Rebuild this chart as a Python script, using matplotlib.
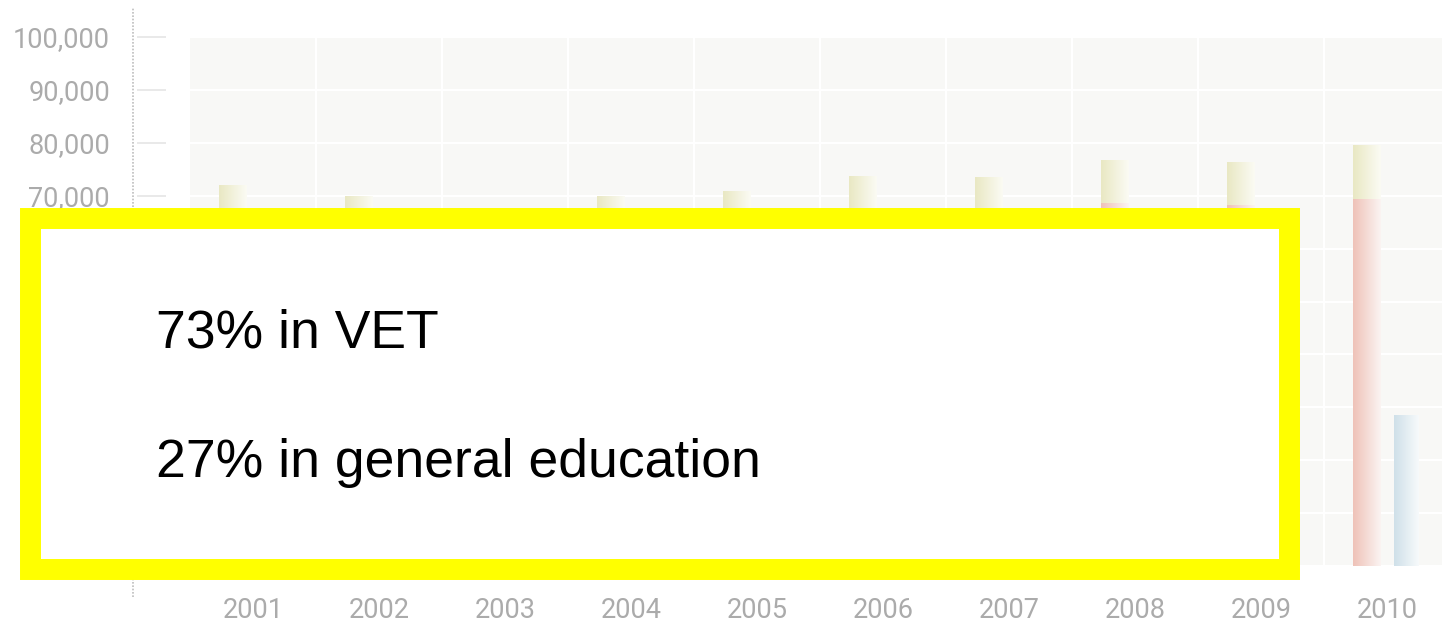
import numpy as np
import matplotlib
matplotlib.use('Agg')
import matplotlib.pyplot as plt
from matplotlib.colors import LinearSegmentedColormap
from matplotlib.patches import Rectangle
from matplotlib.ticker import FixedLocator, FuncFormatter

years = ['2001', '2002', '2003', '2004', '2005', '2006', '2007', '2008', '2009', '2010']
# total students (yellow top), VET students (red), general education (blue)
total_students = [72000, 69700, 67000, 69900, 70900, 73700, 73500, 76600, 76200, 79600]
vet_students = [64500, 62500, 60500, 62000, 63000, 65500, 65000, 68600, 68200, 69400]
general_students = [26000, 25500, 25000, 25500, 26000, 27000, 27500, 28000, 27800, 28500]
y_ticks = list(range(0, 100001, 10000))

W, H = 1442, 623
fig = plt.figure(figsize=(W / 100, H / 100), dpi=100)
ax = fig.add_axes([166 / W, 57 / H, 1 - 166 / W, 529 / H])

x = np.arange(len(years))
other = [t - v for t, v in zip(total_students, vet_students)]


def shade(bars, c_left, c_right):
    # horizontal gradient fill for each bar
    cmap = LinearSegmentedColormap.from_list('', [c_left, c_right])
    grad = np.linspace(0, 1, 64).reshape(1, -1)
    for b in bars:
        x0, y0 = b.get_x(), b.get_y()
        w, h = b.get_width(), b.get_height()
        ax.imshow(grad, cmap=cmap, extent=(x0, x0 + w, y0, y0 + h),
                  aspect='auto', zorder=2, interpolation='bilinear')
        b.set_facecolor('none')


red = ax.bar(x - 0.163, vet_students, width=0.215, linewidth=0, zorder=2)
yel = ax.bar(x - 0.163, other, bottom=vet_students, width=0.215, linewidth=0, zorder=2)
blu = ax.bar(x + 0.151, general_students, width=0.198, linewidth=0, zorder=2)
shade(red, '#efc2b8', '#fbf4f2')
shade(yel, '#e9e8c3', '#fbfbf4')
shade(blu, '#cfe0e9', '#f7fafb')

# plot background
ax.axvspan(-0.5, len(years), color='#f8f8f6', zorder=0.1, linewidth=0)

ax.set_xlim(-0.5 - 24 / 126, -0.5 + (W - 190) / 126)
ax.set_ylim(0, 100000)
ax.set_axisbelow(True)

ax.yaxis.set_major_locator(FixedLocator(y_ticks))
ax.yaxis.set_major_formatter(FuncFormatter(lambda v, p: f'{int(v):,}'))
ax.set_xticks(x)
ax.set_xticklabels(years)
ax.xaxis.set_minor_locator(FixedLocator(x[:-1] + 0.5))

ax.grid(axis='y', which='major', color='white', linewidth=1.6)
ax.grid(axis='x', which='minor', color='white', linewidth=1.6)

for s in ax.spines.values():
    s.set_visible(False)

ax.tick_params(axis='y', length=20.9, width=1.1, color='#e3e3e3', pad=19.4,
               labelcolor='#ababab', labelsize=19.5)
ax.tick_params(axis='x', which='both', length=0, pad=22.5, labelcolor='#ababab', labelsize=19.5)
for lab in ax.get_xticklabels() + ax.get_yticklabels():
    lab.set_fontfamily(['Roboto', 'DejaVu Sans'])

# dotted axis line
ax.plot([-33 / 1276, -33 / 1276], [-0.0586, 1.0548], transform=ax.transAxes,
        clip_on=False, color='#bdbdbd', linestyle=(0, (1, 1)), linewidth=1.2)

# yellow callout box
box = Rectangle((29.5 / W, (H - 569) / H), (1288.5 - 29.5) / W, (569 - 217.5) / H,
                transform=fig.transFigure, facecolor='white', edgecolor='#ffff00',
                linewidth=15.1, joinstyle='miter', zorder=10)
fig.add_artist(box)
fig.text(156 / W, (H - 348) / H, '73% in VET', fontsize=38.5, family=['Liberation Sans', 'DejaVu Sans'],
         va='baseline', ha='left', color='black', zorder=11)
fig.text(156 / W, (H - 477) / H, '27% in general education', fontsize=38.5,
         family=['Liberation Sans', 'DejaVu Sans'], va='baseline', ha='left', color='black', zorder=11)

fig.savefig('out.png', dpi=100)
